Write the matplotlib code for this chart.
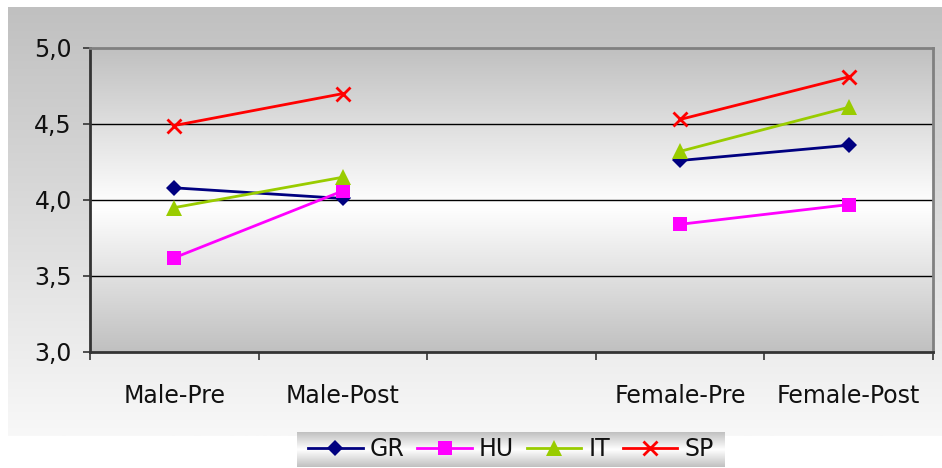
import numpy as np
import matplotlib
matplotlib.use("Agg")
import matplotlib.pyplot as plt
from matplotlib.ticker import FuncFormatter, FixedLocator

# Categories (the blank slot separates the male and female groups)
categories = ["Male-Pre", "Male-Post", "", "Female-Pre", "Female-Post"]

gr = [4.08, 4.01, np.nan, 4.26, 4.36]
hu = [3.62, 4.06, np.nan, 3.84, 3.97]
it = [3.95, 4.15, np.nan, 4.32, 4.61]
sp = [4.49, 4.70, np.nan, 4.53, 4.81]

series_names = ["GR", "HU", "IT", "SP"]
series_values = [gr, hu, it, sp]

y_ticks = [3.0, 3.5, 4.0, 4.5, 5.0]

W, H = 942, 468
fig = plt.figure(figsize=(W / 100, H / 100), dpi=100)
fig.patch.set_facecolor("white")


def vertical_gradient(stops, n=256):
    """stops: list of (position 0..1 from top, grey level 0..1)."""
    pos = np.array([s[0] for s in stops])
    lvl = np.array([s[1] for s in stops])
    t = np.linspace(0, 1, n)
    g = np.interp(t, pos, lvl)
    return np.repeat(g[:, None, None], 3, axis=2)


# Chart-area background: grey at the top fading to near white
bg = fig.add_axes([8 / W, 1 - 436 / H, 934 / W, 429 / H], zorder=-10)
bg.imshow(vertical_gradient([(0, 0xC0 / 255), (1, 0xF8 / 255)]),
          aspect="auto", extent=(0, 1, 0, 1))
bg.set_axis_off()

# Plot area
ax = fig.add_axes([90 / W, 1 - 352 / H, 843 / W, 304 / H])
ax.set_xlim(-0.5, len(categories) - 0.5)
ax.set_ylim(3.0, 5.0)
ax.imshow(vertical_gradient([(0, 0xC0 / 255), (0.52, 1.0), (1, 0xC0 / 255)]),
          aspect="auto", extent=(-0.5, len(categories) - 0.5, 3.0, 5.0), zorder=0)

for yv in y_ticks[1:-1]:
    ax.axhline(yv, color="black", lw=1.0, zorder=1)

styles = {
    "GR": dict(color="#000080", marker="D", ms=8.0, mew=0),
    "HU": dict(color="#FF00FF", marker="s", ms=10.5, mew=0),
    "IT": dict(color="#99CC00", marker="^", ms=11.5, mew=0),
    "SP": dict(color="#FF0000", marker="x", ms=10, mew=2.0),
}

x = np.arange(len(categories))
handles = []
for name, vals in zip(series_names, series_values):
    st = styles[name]
    (h,) = ax.plot(x, vals, color=st["color"], lw=2.0, marker=st["marker"],
                   ms=st["ms"], mew=st["mew"], mec=st["color"], mfc=st["color"],
                   zorder=3, clip_on=False)
    handles.append(h)

# Spines
for side in ("top", "right"):
    ax.spines[side].set_color("#808080")
    ax.spines[side].set_linewidth(2.0)
for side in ("left", "bottom"):
    ax.spines[side].set_color("#333333")
    ax.spines[side].set_linewidth(2.0)

# Y axis
ax.yaxis.set_major_locator(FixedLocator(y_ticks))
ax.yaxis.set_major_formatter(FuncFormatter(lambda v, p: f"{v:.1f}".replace(".", ",")))
ax.tick_params(axis="y", direction="out", length=5, width=1.2, color="#333333",
               pad=8, labelsize=17, labelcolor="#111111")

# X axis: labels at category centres, tick marks on the boundaries
ax.set_xticks(x)
ax.set_xticklabels(categories)
ax.set_xticks(np.arange(-0.5, len(categories)), minor=True)
ax.tick_params(axis="x", which="major", length=0, pad=23, labelsize=17,
               labelcolor="#111111")
ax.tick_params(axis="x", which="minor", direction="out", length=6, width=1.2,
               color="#333333")

# Legend box with its own grey gradient
lx0, lx1, ly0, ly1 = 297, 725, 432, 467
lg_bg = fig.add_axes([lx0 / W, 1 - ly1 / H, (lx1 - lx0) / W, (ly1 - ly0) / H], zorder=5)
lg_bg.imshow(vertical_gradient([(0, 0xC0 / 255), (0.5, 1.0), (1, 0xC0 / 255)]),
             aspect="auto", extent=(0, 1, 0, 1))
lg_bg.set_axis_off()

leg = fig.legend(handles, series_names, loc="center", ncol=4, frameon=False,
                 bbox_to_anchor=((lx0 + lx1) / 2 / W, 1 - (ly0 + ly1) / 2 / H),
                 fontsize=17, handlelength=2.3, handletextpad=0.3,
                 columnspacing=0.55, borderaxespad=0)
leg.set_zorder(6)
for t in leg.get_texts():
    t.set_color("#111111")

fig.savefig("out.png", dpi=100)
